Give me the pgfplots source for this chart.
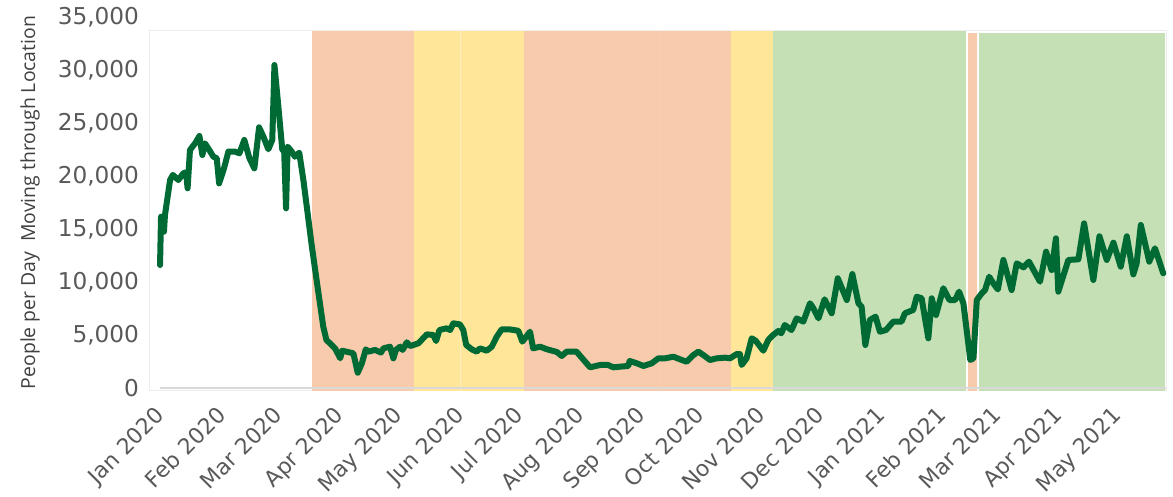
\documentclass[border=0pt]{standalone}
\usepackage{fontspec}
\setmainfont{DejaVu Sans}
\newfontfamily\labfont{Open Sans}
\usepackage{pgfplots}
\pgfplotsset{compat=1.18}
\definecolor{shorange}{HTML}{F8CBAD}
\definecolor{shyellow}{HTML}{FFE699}
\definecolor{shgreen}{HTML}{C5E0B4}
\definecolor{lineg}{HTML}{006A35}
\definecolor{ticktxt}{HTML}{595959}
\definecolor{labtxt}{HTML}{404040}

\begin{document}
\begin{tikzpicture}
\begin{axis}[
  name=ax,
  scale only axis,
  width=508pt, height=185.5pt,
  xmin=-5.6, xmax=510.4,
  ymin=0, ymax=35000,
  clip=false,
  axis line style={draw=none},
  tick style={draw=none},
  xtick={0,31,60,91,121,152,182,213,244,274,305,335,366,397,425,456,486},
  xticklabels={Jan 2020,Feb 2020,Mar 2020,Apr 2020,May 2020,Jun 2020,Jul 2020,Aug 2020,Sep 2020,Oct 2020,Nov 2020,Dec 2020,Jan 2021,Feb 2021,Mar 2021,Apr 2021,May 2021},
  xticklabel style={rotate=45,anchor=north east,font=\fontsize{11}{13}\selectfont,text=ticktxt,inner sep=1pt,xshift=-7.3pt,yshift=-2.4pt},
  ytick={0,5000,...,35000},
  scaled y ticks=false,
  yticklabel style={font=\fontsize{11.6}{13}\selectfont,text=ticktxt,xshift=-2pt},
  /pgf/number format/assume math mode=true,
  /pgf/number format/1000 sep={,},
  ylabel={\labfont People per Day\ \ Moving through Location},
  ylabel style={at={(axis description cs:-0.118,0.5)},rotate=0,anchor=center,font=\fontsize{9.7}{12}\selectfont,text=labtxt},
]
% plot area frame
\addplot[draw=black!7,line width=0.5pt,fill=none] coordinates {(-5.6,-250) (-5.6,33700) (510.4,33700) (510.4,-250) (-5.6,-250)};
% phase shading
\addplot[draw=none,fill=shorange] coordinates {(76.7,-250) (76.7,33700) (128.5,33700) (128.5,-250)};
\addplot[draw=none,fill=shyellow] coordinates {(128.5,-250) (128.5,33700) (184.4,33700) (184.4,-250)};
\addplot[draw=none,fill=shorange] coordinates {(184.4,-250) (184.4,33700) (289.5,33700) (289.5,-250)};
\addplot[draw=none,fill=shyellow] coordinates {(289.5,-250) (289.5,33700) (310.8,33700) (310.8,-250)};
\addplot[draw=none,fill=shgreen] coordinates {(310.8,-250) (310.8,33700) (408.8,33700) (408.8,-250)};
\addplot[draw=none,fill=shorange] coordinates {(409.9,-250) (409.9,33500) (414.4,33500) (414.4,-250)};
\addplot[draw=none,fill=shgreen] coordinates {(415.4,-250) (415.4,33500) (509.9,33500) (509.9,-250)};
\addplot[draw={rgb,255:red,255;green,238;blue,190},line width=0.5pt] coordinates {(151.9,-250) (151.9,33700)};
\addplot[draw={rgb,255:red,246;green,206;blue,178},line width=0.5pt] coordinates {(253.4,-250) (253.4,33700)};
% x axis line
\addplot[draw={rgb,255:red,217;green,217;blue,217},line width=1.2pt] coordinates {(-0.5,0) (510.4,0)};
% people per day
\addplot[color=lineg,line width=3pt,line join=round,line cap=round,mark=none] coordinates {
(-0.5,11600) (0,16160) (1.5,14750) (2,16320) (4.6,19620) (6,20100) (8.8,19620)
(11.3,20250) (12.7,20350) (13.5,18840) (14.7,22450) (17.3,23080) (19.5,23770)
(21,21980) (22.3,23080) (24.5,22450) (26.6,21820) (28.3,21670) (29.5,19300)
(32,20720) (34.2,22300) (37.6,22300) (39.8,22140) (42.3,23400) (44.9,21670)
(47.4,20720) (49.8,24590) (52,23710) (54.5,22520) (56.5,23400) (57.6,30470)
(59.6,26540) (61.6,22450) (62.5,22600) (63.5,16950) (64.3,22770) (66.4,22300)
(68,21820) (70.2,22200) (72.3,19620) (76.5,13500) (79,10200) (82.4,5790)
(84,4530) (88.4,3740) (91,2800) (92,3520) (97.7,3270) (99.9,1440) (102,2330)
(104,3650) (105.3,3430) (108.7,3590) (111.7,3340) (113,3740) (116.3,3900)
(118,2800) (119.3,3590) (121.4,3900) (122.7,3590) (124.8,4310) (126.5,3960)
(130.7,4210) (135,5060) (138.3,5000) (139.7,4430) (141.4,5470) (145,5630)
(146.8,5470) (148.5,6100) (151.8,6000) (153.5,5470) (155,4060) (157.8,3650)
(160.3,3430) (162,3740) (165.4,3520) (168,3900) (170.5,4840) (173,5530)
(177,5530) (181.5,5400) (183.5,4370) (187.4,5310) (189,3740) (192.5,3900)
(196,3650) (201,3400) (203.5,3020) (206,3430) (211,3430) (217.9,1950)
(223,2170) (227,2170) (229.7,1950) (233,2010) (237.3,2080) (238,2550)
(241.6,2330) (245,2080) (249.2,2330) (252.6,2800) (256,2800) (260.2,2950)
(264.5,2640) (267,2480) (270.4,3110) (272.9,3430) (275.4,3110) (278.8,2640)
(282.2,2800) (286.4,2860) (289,2800) (292.4,3210) (294,3200) (294.9,2170)
(297.4,2800) (300,4690) (302,4460) (305.9,3520) (308.4,4530) (310.9,5000)
(313.5,5380) (315,5160) (316.8,5940) (320.2,5470) (322.8,6570) (326.2,6260)
(329.6,7990) (331.3,7520) (333.9,6570) (337,8370) (340.6,7050) (343.7,10350)
(348.3,8300) (351.1,10750) (354.2,7990) (355.8,7670) (357.7,4060) (360,6420)
(362.9,6730) (365.1,5310) (368.2,5470) (371.9,6260) (376.1,6260) (377.8,7050)
(382,7360) (383.8,8610) (386.3,8460) (389.7,4690) (391.4,8460) (393.6,6890)
(397.3,9410) (400.4,8300) (403.3,8300) (405.3,9090) (407.5,7990) (411,2640)
(412.6,2800) (414.3,8300) (416.8,8930) (418.5,9240) (420.6,10500) (422.7,9870)
(425,9300) (427.8,12080) (432,9240) (434.6,11760) (438,11380) (440.8,11920)
(446.4,10030) (449.5,12860) (452.3,11130) (454.5,14120) (455.7,9090)
(460.8,12080) (465.9,12140) (468.8,15530) (473.5,10190) (476.6,14310)
(480.3,12080) (483.7,13710) (487.4,11450) (490.5,14310) (493.8,10720)
(495.5,11760) (497.6,15380) (501.9,11920) (504.8,13180) (509,10820)
};
\end{axis}
\pgfresetboundingbox
\path[use as bounding box] (ax.south west) ++(-75pt,-54.5pt) rectangle ++(586.5pt,248.5pt);
\end{tikzpicture}
\end{document}
